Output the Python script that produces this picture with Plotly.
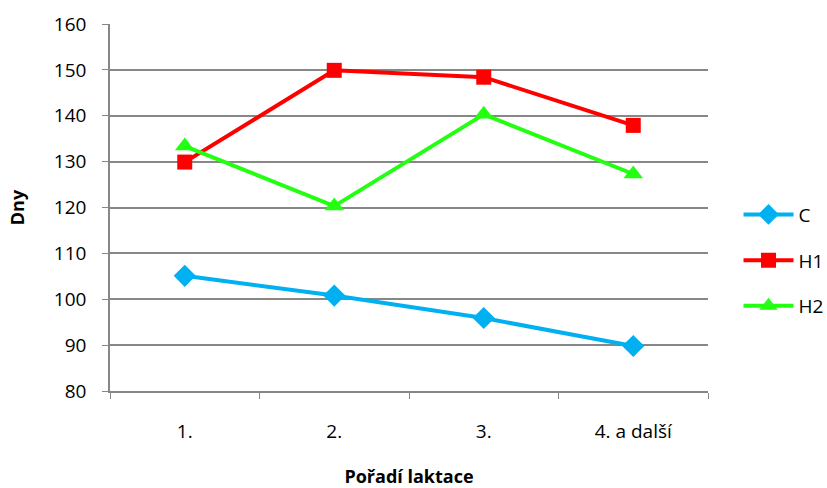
import plotly.graph_objects as go

categories = ["1.", "2.", "3.", "4. a další"]
c_values = [105.1, 100.8, 95.9, 89.8]
h1_values = [129.9, 149.9, 148.4, 137.9]
h2_values = [133.4, 120.3, 140.3, 127.3]
y_ticks = [80, 90, 100, 110, 120, 130, 140, 150, 160]

FONT = "Open Sans, Liberation Sans, sans-serif"
GRID = "#878787"

fig = go.Figure()
series = [
    ("C", c_values, "#00B0F0", "diamond", 17),
    ("H1", h1_values, "#FF0000", "square", 15),
    ("H2", h2_values, "#22FF11", "triangle-up", 17),
]
for name, vals, col, sym, size in series:
    fig.add_trace(go.Scatter(
        x=categories, y=vals, name=name, mode="lines+markers",
        line=dict(color=col, width=4),
        marker=dict(symbol=sym, size=size, color=col),
        legendgroup=name,
    ))

fig.update_layout(
    width=827, height=488,
    margin=dict(l=110, r=119, t=24, b=97, autoexpand=False),
    paper_bgcolor="white", plot_bgcolor="white",
    font=dict(family=FONT, size=19, color="black"),
    showlegend=True,
    legend=dict(xref="container", yref="container", x=0.893, y=0.466,
                xanchor="left", yanchor="middle",
                tracegroupgap=18, font=dict(size=19), itemwidth=50),
    xaxis=dict(
        type="category", range=[-0.5, 3.5], tickson="boundaries",
        ticks="outside", ticklen=6, tickcolor=GRID, tickwidth=1,
        showline=True, linecolor=GRID, linewidth=1.5, showgrid=False,
        ticklabelstandoff=22, automargin=False,
        title=dict(text="<b>Pořadí laktace</b>", standoff=34, font=dict(size=18)),
    ),
    yaxis=dict(
        range=[80, 160], tickvals=y_ticks, ticks="outside", ticklen=6,
        tickcolor=GRID, showline=True, linecolor=GRID, linewidth=1.5,
        showgrid=True, gridcolor=GRID, gridwidth=1.5, zeroline=False,
        ticklabelstandoff=12, automargin=False,
        title=dict(text="<b>Dny</b>", standoff=25, font=dict(size=18)),
    ),
)

fig.write_html("out.html")
